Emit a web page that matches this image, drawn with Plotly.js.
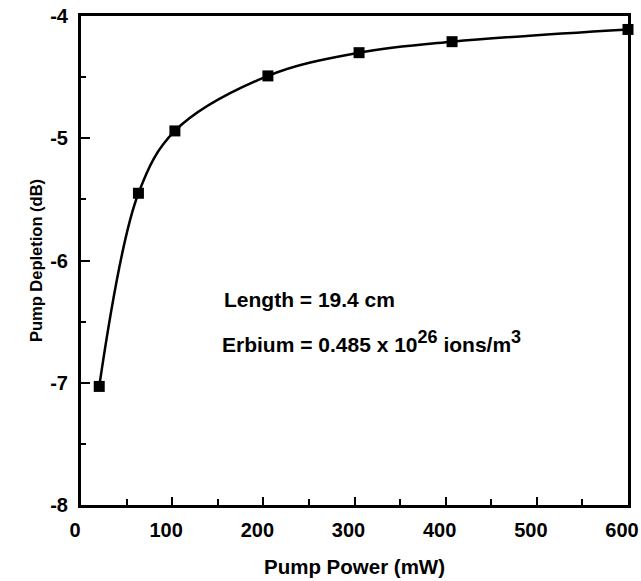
<!DOCTYPE html>
<html>
<head>
<meta charset="utf-8">
<script src="https://cdn.plot.ly/plotly-3.0.1.min.js"></script>
<style>html,body{margin:0;padding:0;background:#fff;}#chart{width:641px;height:581px;}</style>
</head>
<body>
<div id="chart"></div>
<script>
const pumpPower = [20, 63, 103, 205, 305, 407, 600];
const pumpDepletion = [-7.03, -5.45, -4.94, -4.49, -4.30, -4.21, -4.11];
const xTickVals = [0, 100, 200, 300, 400, 500, 600];
const yTickVals = [-8, -7, -6, -5, -4];
const annotationLines = ["Length = 19.4 cm", "Erbium = 0.485 x 10<sup><span style=\"font-size:18px\">26</span></sup> ions/m<sup><span style=\"font-size:18px\">3</span></sup>"];

const fontFam = '"Liberation Sans", Arial, Helvetica, sans-serif';

const trace = {
  x: pumpPower, y: pumpDepletion,
  type: 'scatter', mode: 'lines+markers',
  line: {color: '#000', width: 2.5, shape: 'spline', smoothing: 1},
  marker: {symbol: 'square', size: 11, color: '#000'},
  cliponaxis: false,
  hoverinfo: 'skip'
};

const layout = {
  width: 641, height: 581,
  margin: {l: 81, r: 13, t: 16, b: 76},
  paper_bgcolor: '#fff', plot_bgcolor: '#fff',
  showlegend: false,
  font: {family: fontFam, color: '#000'},
  xaxis: {
    range: [0, 600], tickvals: xTickVals, ticktext: xTickVals.map(v => '<b>' + v + '</b>'),
    ticks: 'inside', ticklen: 8, tickwidth: 2, tickcolor: '#000',
    minor: {dtick: 50, tick0: 0, ticks: 'inside', ticklen: 6, tickwidth: 2, tickcolor: '#000'},
    showline: true, linecolor: '#000', linewidth: 3, mirror: true,
    showgrid: false, zeroline: false,
    tickfont: {size: 20, family: fontFam, weight: 'bold'},
    ticklabelshift: -6,
    ticklabelstandoff: 5,
    ticklabeloverflow: 'allow',
    title: {text: '<b>Pump Power (mW)</b>', font: {size: 20.5, family: fontFam, weight: 'bold'}, standoff: 20}
  },
  yaxis: {
    range: [-8, -4], tickvals: yTickVals, ticktext: yTickVals.map(v => '<b>' + v + '</b>'),
    ticks: 'inside', ticklen: 9, tickwidth: 2, tickcolor: '#000',
    minor: {dtick: 0.5, tick0: -8, ticks: 'inside', ticklen: 5, tickwidth: 2, tickcolor: '#000'},
    showline: true, linecolor: '#000', linewidth: 3, mirror: true,
    showgrid: false, zeroline: false,
    tickfont: {size: 20, family: fontFam, weight: 'bold'},
    ticklabelstandoff: 6,
    title: {text: '<b>Pump Depletion (dB)</b>', font: {size: 16.5, family: fontFam, weight: 'bold'}, standoff: 4}
  },
  annotations: [
    {x: 155, y: -6.32, xref: 'x', yref: 'y', xanchor: 'left', yanchor: 'middle', showarrow: false,
     text: '<b>' + annotationLines[0] + '</b>', font: {size: 21, family: fontFam}},
    {x: 152, y: -6.66, xref: 'x', yref: 'y', xanchor: 'left', yanchor: 'middle', showarrow: false,
     text: '<b>' + annotationLines[1] + '</b>', font: {size: 21, family: fontFam}}
  ]
};

Plotly.newPlot('chart', [trace], layout, {staticPlot: true, displayModeBar: false});
</script>
</body>
</html>
